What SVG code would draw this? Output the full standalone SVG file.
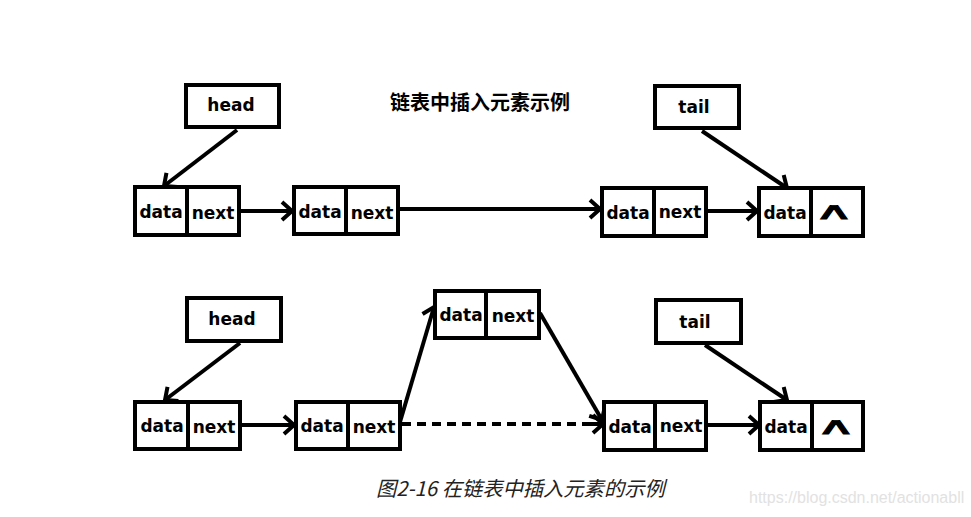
<svg xmlns="http://www.w3.org/2000/svg" width="971" height="517" viewBox="0 0 971 517">
<defs>
<style>
.box{fill:#fff;stroke:#000;stroke-width:4}
.div{stroke:#000;stroke-width:4}
.lbl{font-family:"DejaVu Sans",sans-serif;font-weight:bold;font-size:17px;fill:#000;text-anchor:middle}
.ln{stroke:#000;stroke-width:4;fill:none;marker-end:url(#ah)}
.title{font-family:"Noto Sans CJK SC",sans-serif;font-weight:bold;font-size:20px;fill:#000}
.cap{font-family:"Noto Sans CJK SC",sans-serif;font-style:italic;font-size:20.3px;fill:#222}
.wm{font-family:"Liberation Sans",sans-serif;font-size:16px;fill:#e2e2e2}
.nul{font-family:"DejaVu Sans",sans-serif;font-size:38px;fill:#000;stroke:#000;stroke-width:1.3;stroke-linejoin:miter;text-anchor:middle}
</style>
<marker id="ah" markerUnits="userSpaceOnUse" viewBox="-14 -12 16 24" markerWidth="16" markerHeight="24" refX="0" refY="0" orient="auto" overflow="visible">
<path d="M-10,-9 L0,0 L-10,9" fill="none" stroke="#000" stroke-width="4"/>
</marker>
</defs>
<rect width="971" height="517" fill="#fff"/>

<text class="title" x="390" y="110">链表中插入元素示例</text>

<g id="connectors">
<line class="ln" x1="237" y1="130" x2="164" y2="186"/>
<line class="ln" x1="239" y1="211" x2="292" y2="211"/>
<line class="ln" x1="398" y1="209" x2="600" y2="209"/>
<line class="ln" x1="706" y1="211" x2="757" y2="211"/>
<line class="ln" x1="702" y1="131" x2="787" y2="188"/>

<line class="ln" x1="240" y1="343" x2="165" y2="400"/>
<line class="ln" x1="240" y1="425" x2="294" y2="425"/>
<line class="ln" x1="400" y1="422" x2="434" y2="307"/>
<line class="ln" x1="540" y1="313" x2="602" y2="420"/>
<line x1="402" y1="424" x2="598" y2="424" stroke="#000" stroke-width="4" stroke-dasharray="9,6"/>
<line class="ln" x1="590" y1="424" x2="603" y2="424"/>
<line class="ln" x1="706" y1="425" x2="759" y2="425"/>
<line class="ln" x1="705" y1="345" x2="787" y2="400"/>
</g>

<g id="head1"><rect class="box" x="186" y="85" width="93" height="42"/><text class="lbl" x="231" y="111">head</text></g>
<g id="tail1"><rect class="box" x="655" y="86" width="84" height="42"/><text class="lbl" x="694" y="113">tail</text></g>

<g id="n1a"><rect class="box" x="135" y="187" width="104" height="48"/><line class="div" x1="187" y1="187" x2="187" y2="235"/><text class="lbl" x="161" y="218">data</text><text class="lbl" x="213" y="219">next</text></g>
<g id="n2a"><rect class="box" x="294" y="187" width="104" height="47"/><line class="div" x1="346" y1="187" x2="346" y2="234"/><text class="lbl" x="320" y="218">data</text><text class="lbl" x="372" y="219">next</text></g>
<g id="n3a"><rect class="box" x="602" y="188" width="104" height="48"/><line class="div" x1="654" y1="188" x2="654" y2="236"/><text class="lbl" x="628" y="219">data</text><text class="lbl" x="680" y="218">next</text></g>
<g id="n4a"><rect class="box" x="759" y="188" width="104" height="48"/><line class="div" x1="811" y1="188" x2="811" y2="236"/><text class="lbl" x="785" y="219">data</text><text class="nul" transform="translate(834,219) scale(1.45,0.62)">∧</text></g>

<g id="head2"><rect class="box" x="187" y="298" width="94" height="43"/><text class="lbl" x="232" y="325">head</text></g>
<g id="tail2"><rect class="box" x="656" y="300" width="85" height="43"/><text class="lbl" x="695" y="328">tail</text></g>

<g id="nnew"><rect class="box" x="435" y="291" width="104" height="47"/><line class="div" x1="486" y1="291" x2="486" y2="338"/><text class="lbl" x="461" y="321">data</text><text class="lbl" x="513" y="322">next</text></g>
<g id="n1b"><rect class="box" x="135" y="402" width="105" height="47"/><line class="div" x1="188" y1="402" x2="188" y2="449"/><text class="lbl" x="162" y="432">data</text><text class="lbl" x="214" y="433">next</text></g>
<g id="n2b"><rect class="box" x="296" y="402" width="104" height="47"/><line class="div" x1="348" y1="402" x2="348" y2="449"/><text class="lbl" x="322" y="432">data</text><text class="lbl" x="374" y="433">next</text></g>
<g id="n3b"><rect class="box" x="604" y="402" width="102" height="48"/><line class="div" x1="655" y1="402" x2="655" y2="450"/><text class="lbl" x="630" y="433">data</text><text class="lbl" x="681" y="432">next</text></g>
<g id="n4b"><rect class="box" x="760" y="402" width="103" height="48"/><line class="div" x1="812" y1="402" x2="812" y2="450"/><text class="lbl" x="786" y="433">data</text><text class="nul" transform="translate(836,434) scale(1.45,0.62)">∧</text></g>

<text class="cap" x="376" y="496">图2-16 在链表中插入元素的示例</text>
<text class="wm" x="749" y="503">https://blog.csdn.net/actionabll</text>
</svg>
